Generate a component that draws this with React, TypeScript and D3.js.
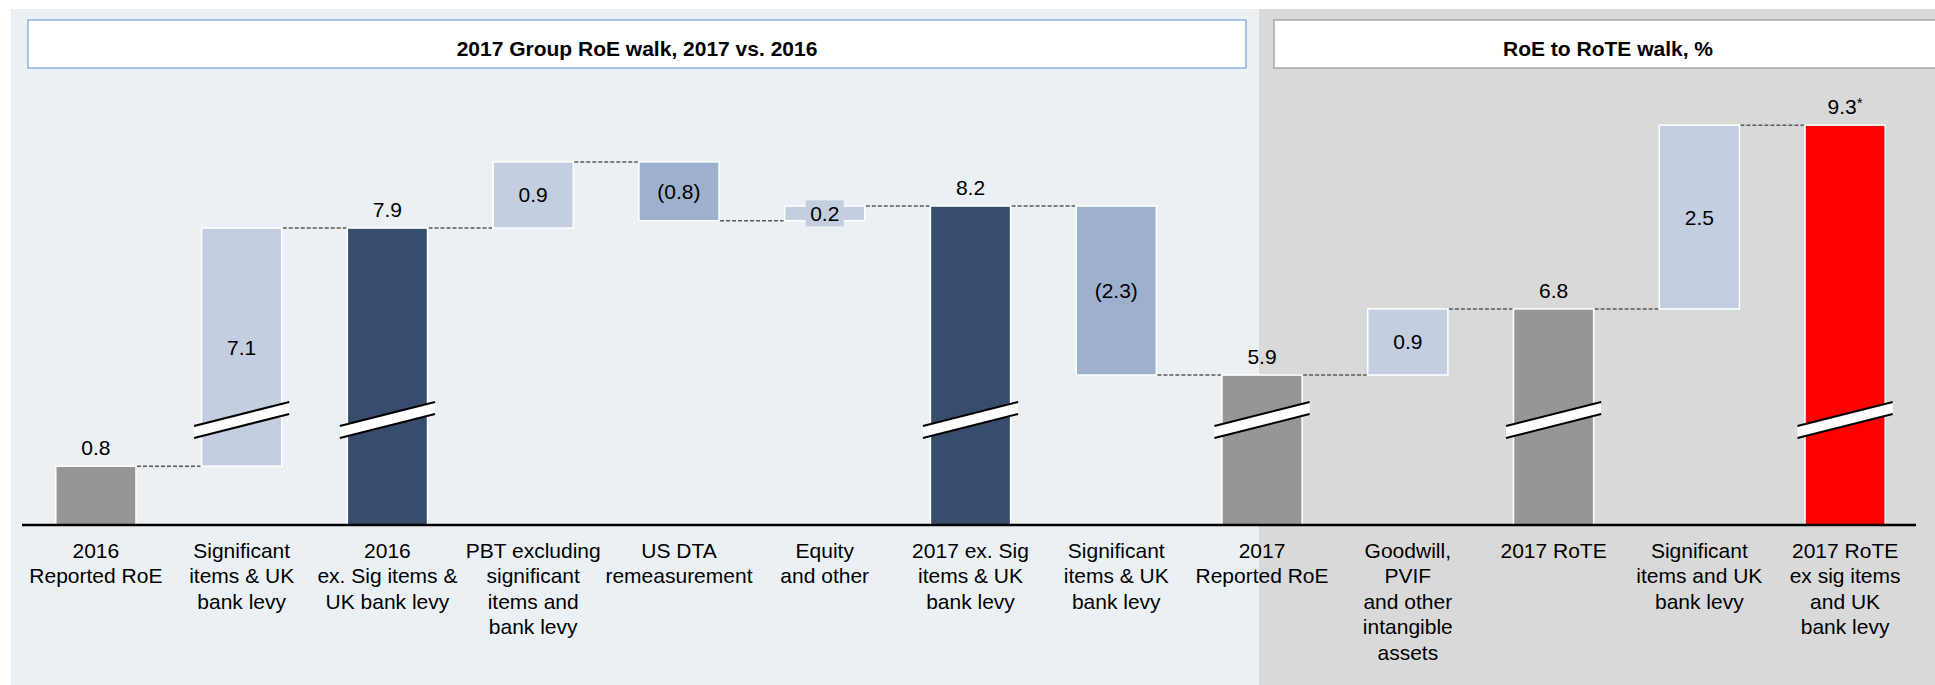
import React, { useEffect, useRef } from 'react';
import * as d3 from 'd3';

const categories = [
    '2016\nReported RoE',
    'Significant\nitems & UK\nbank levy',
    '2016\nex. Sig items &\nUK bank levy',
    'PBT excluding\nsignificant\nitems and\nbank levy',
    'US DTA\nremeasurement',
    'Equity\nand other',
    '2017 ex. Sig\nitems & UK\nbank levy',
    'Significant\nitems & UK\nbank levy',
    '2017\nReported RoE',
    'Goodwill,\nPVIF\nand other\nintangible\nassets',
    '2017 RoTE',
    'Significant\nitems and UK\nbank levy',
    '2017 RoTE\nex sig items\nand UK\nbank levy'
];
const values = [0.8, 7.1, 7.9, 0.9, -0.8, 0.2, 8.2, -2.3, 5.9, 0.9, 6.8, 2.5, 9.3];
const barKinds = ['total', 'delta', 'total', 'delta', 'delta', 'delta', 'total', 'delta', 'total', 'delta', 'total', 'delta', 'total'];
const valueLabels = ['0.8', '7.1', '7.9', '0.9', '(0.8)', '0.2', '8.2', '(2.3)', '5.9', '0.9', '6.8', '2.5', '9.3'];
const barColors = ['#969696', '#C3CEE0', '#374D6E', '#C3CEE0', '#9DB0CE', '#C3CEE0', '#374D6E', '#9DB0CE', '#969696', '#C3CEE0', '#969696', '#C3CEE0', '#FF0000'];
const brokenBars = [false, true, true, false, false, false, true, false, true, false, true, false, true];
const panelTitles = ['2017 Group RoE walk, 2017 vs. 2016', 'RoE to RoTE walk, %'];

const FONT = '"Liberation Sans", Arial, sans-serif';

const App: React.FC = () => {
    const chartRef = useRef<SVGSVGElement | null>(null);

    useEffect(() => {
        if (!chartRef.current) return;
        const width = 1935;
        const height = 685;
        const baseY = 525;
        const unit = 73.5;
        const breakGap = 3.86;
        const splitX = 1259;

        const svg = d3.select(chartRef.current)
            .attr('width', width)
            .attr('height', height);
        svg.selectAll('*').remove();

        // panels
        svg.append('rect').attr('x', 11).attr('y', 9).attr('width', splitX - 11).attr('height', height - 9).attr('fill', '#EBF0F5');
        svg.append('rect').attr('x', splitX).attr('y', 9).attr('width', width - splitX).attr('height', height - 9).attr('fill', '#D9D9D9');

        const boxes = [
            { x0: 28, x1: 1246, stroke: '#8DB3E2' },
            { x0: 1274, x1: 1942, stroke: '#A6A6A6' }
        ];
        boxes.forEach((b, i) => {
            svg.append('rect')
                .attr('x', b.x0).attr('y', 20)
                .attr('width', b.x1 - b.x0).attr('height', 48)
                .attr('fill', 'white')
                .attr('stroke', b.stroke)
                .attr('stroke-width', 1.5);
            svg.append('text')
                .attr('x', (b.x0 + b.x1) / 2)
                .attr('y', 56)
                .attr('text-anchor', 'middle')
                .style('font-family', FONT)
                .style('font-size', '21px')
                .style('font-weight', 'bold')
                .style('fill', '#000')
                .text(panelTitles[i]);
        });

        // running totals
        let running = 0;
        const bars = values.map((v, i) => {
            let start: number, end: number;
            if (barKinds[i] === 'total') {
                start = 0;
                end = v;
            } else {
                start = running;
                end = running + v;
            }
            running = end;
            return { i, start, end, lo: Math.min(start, end), hi: Math.max(start, end) };
        });

        const x = d3.scaleBand<number>()
            .domain(d3.range(categories.length))
            .range([23, 1918])
            .paddingInner(0.45)
            .paddingOuter(0.225);
        const bw = x.bandwidth();

        // broken axis: values between 1 and 1 + breakGap collapse
        const y = d3.scaleLinear()
            .domain([0, 1, 1 + breakGap, 10])
            .range([baseY, baseY - unit, baseY - unit, baseY - unit * (10 - breakGap)]);

        // connectors
        for (let i = 0; i < bars.length - 1; i++) {
            const level = bars[i].end;
            svg.append('line')
                .attr('x1', (x(i) as number) + bw + 1)
                .attr('x2', (x(i + 1) as number) - 1)
                .attr('y1', y(level))
                .attr('y2', y(level))
                .attr('stroke', '#595959')
                .attr('stroke-width', 1.5)
                .attr('stroke-dasharray', '4,2');
        }

        // bars
        svg.selectAll('.bar')
            .data(bars)
            .enter().append('rect')
            .attr('class', 'bar')
            .attr('x', d => x(d.i) as number)
            .attr('y', d => y(d.hi))
            .attr('width', bw)
            .attr('height', d => y(d.lo) - y(d.hi))
            .attr('fill', d => barColors[d.i])
            .attr('stroke', 'white')
            .attr('stroke-width', 1.5);

        // break marks
        const breakY = 420;
        const half = bw / 2 + 7.5;
        const slope = 24 / 95;
        const thick = 6;
        bars.filter(d => brokenBars[d.i]).forEach(d => {
            const cx = (x(d.i) as number) + bw / 2;
            const xl = cx - half;
            const xr = cx + half;
            const yl = breakY + half * slope;
            const yr = breakY - half * slope;
            const g = svg.append('g');
            g.append('polygon')
                .attr('points', `${xl},${yl - thick} ${xr},${yr - thick} ${xr},${yr + thick} ${xl},${yl + thick}`)
                .attr('fill', 'white');
            [-thick, thick].forEach(o => {
                g.append('line')
                    .attr('x1', xl).attr('y1', yl + o)
                    .attr('x2', xr).attr('y2', yr + o)
                    .attr('stroke', 'black')
                    .attr('stroke-width', 2);
            });
        });

        // axis line
        svg.append('line')
            .attr('x1', 22).attr('x2', 1916)
            .attr('y1', baseY).attr('y2', baseY)
            .attr('stroke', 'black')
            .attr('stroke-width', 2.5);

        // value labels
        bars.forEach(d => {
            const cx = (x(d.i) as number) + bw / 2;
            if (barKinds[d.i] === 'total') {
                const t = svg.append('text')
                    .attr('x', cx)
                    .attr('y', y(d.end) - 11)
                    .attr('text-anchor', 'middle')
                    .style('font-family', FONT)
                    .style('font-size', '21px')
                    .style('fill', '#000')
                    .text(valueLabels[d.i]);
                if (d.i === bars.length - 1) {
                    t.append('tspan')
                        .attr('dy', -6)
                        .style('font-size', '15px')
                        .text('*');
                }
            } else {
                const cy = (y(d.lo) + y(d.hi)) / 2;
                svg.append('rect')
                    .attr('x', cx - 19)
                    .attr('y', cy - 13)
                    .attr('width', 38)
                    .attr('height', 26)
                    .attr('fill', barColors[d.i]);
                svg.append('text')
                    .attr('x', cx)
                    .attr('y', cy + 7.5)
                    .attr('text-anchor', 'middle')
                    .style('font-family', FONT)
                    .style('font-size', '21px')
                    .style('fill', '#000')
                    .text(valueLabels[d.i]);
            }
        });

        // category labels
        categories.forEach((c, i) => {
            const cx = (x(i) as number) + bw / 2;
            const t = svg.append('text')
                .attr('text-anchor', 'middle')
                .style('font-family', FONT)
                .style('font-size', '21px')
                .style('fill', '#000');
            c.split('\n').forEach((line, j) => {
                t.append('tspan')
                    .attr('x', cx)
                    .attr('y', 557.5 + j * 25.6)
                    .text(line);
            });
        });
    }, []);

    return (
        <svg ref={chartRef} style={{ position: 'absolute', left: 0, top: 0, display: 'block', background: 'white' }}></svg>
    );
};

export default App;
